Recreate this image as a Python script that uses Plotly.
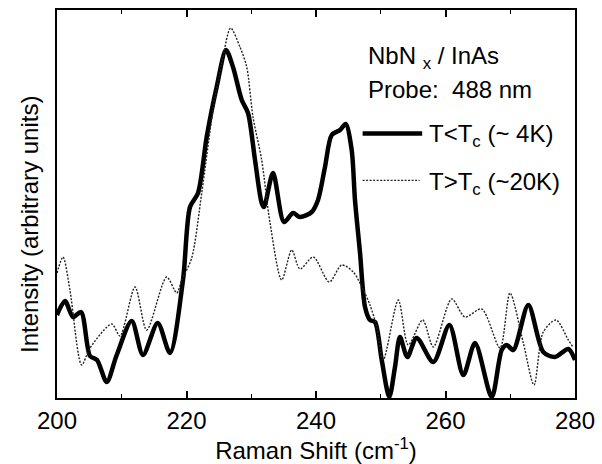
import plotly.graph_objects as go

# Raman shift (cm^-1) and intensity (arbitrary units) for T < Tc (~4K)
shift_4k = [200.0, 201.24, 202.47, 203.71, 205.10, 206.18, 207.68, 209.22, 211.54, 213.28,
            215.55, 217.45, 219.46, 220.54, 221.78, 223.12, 224.66, 226.10, 227.18, 228.53,
            229.50, 230.58, 231.61, 231.97, 233.36, 235.06, 236.45, 237.53, 239.34, 240.31,
            241.39, 242.43, 243.71, 244.59, 245.51, 246.02, 246.80, 247.57, 248.34, 249.11,
            250.15, 251.32, 252.20, 252.97, 254.10, 255.55, 258.12, 260.60, 262.75, 264.56,
            267.14, 268.68, 269.45, 270.47, 272.79, 275.10, 276.91, 278.97, 280.0]
inten_4k = [83, 97, 81, 86, 42, 38, 16, 43, 77, 43,
            75, 45, 118, 191, 205, 261, 311, 348, 331, 298,
            285, 238, 195, 191, 225, 176, 185, 181, 186, 198,
            231, 263, 268, 274, 248, 198, 145, 91, 78, 76,
            38, 1, 31, 61, 41, 60, 36, 73, 23, 55,
            1, 48, 53, 48, 93, 46, 41, 49, 38]

# T > Tc (~20K)
shift_20k = [200.0, 200.93, 202.0, 203.81, 205.10, 208.45, 209.73, 212.05, 213.85, 216.94,
             218.49, 219.26, 220.80, 222.35, 224.14, 225.60, 226.82, 228.26, 229.30, 230.27,
             231.61, 232.90, 234.70, 236.25, 237.53, 239.58, 242.05, 243.97, 245.76, 247.31,
             248.34, 249.38, 250.39, 252.71, 254.25, 256.48, 258.12, 260.96, 263.01, 265.59,
             268.42, 269.96, 272.02, 273.67, 275.10, 277.07, 278.97, 279.69]
inten_20k = [125, 141, 108, 33, 50, 74, 62, 111, 68, 121,
             105, 118, 140, 205, 290, 340, 370, 351, 331, 281,
             238, 175, 118, 148, 129, 141, 116, 133, 126, 108,
             93, 71, 38, 98, 53, 78, 51, 99, 81, 89,
             50, 105, 55, 13, 66, 78, 58, 51]

x_ticks = [200, 220, 240, 260, 280]

series_names = ["T&lt;T<sub>c</sub> (~ 4K)", "T&gt;T<sub>c</sub> (~20K)"]
sample_name = "NbN <sub>x</sub> / InAs"
probe_text = "Probe:  488 nm"

FONT = "Liberation Sans, Arial, sans-serif"
FS = 24

thick = dict(color="black", width=4.5)
thin = dict(color="#222222", width=1.4, dash="2px,1.5px")

fig = go.Figure()
fig.add_trace(go.Scatter(
    x=shift_4k, y=inten_4k, mode="lines", name=series_names[0],
    line=dict(shape="spline", smoothing=0.8, **thick),
))
fig.add_trace(go.Scatter(
    x=shift_20k, y=inten_20k, mode="lines", name=series_names[1],
    line=dict(shape="spline", smoothing=0.8, **thin),
))

def txt(text, x, y, **kw):
    d = dict(text=text, x=x, y=y, xref="paper", yref="paper", xanchor="left",
             yanchor="middle", showarrow=False, font=dict(size=FS))
    d.update(kw)
    return d

fig.update_layout(
    width=602, height=464,
    margin=dict(l=57, r=27, t=10, b=66, autoexpand=False),
    paper_bgcolor="white", plot_bgcolor="white",
    font=dict(family=FONT, size=FS, color="black"),
    showlegend=False,
    xaxis=dict(range=[200, 280], tickvals=x_ticks, ticktext=[str(v) for v in x_ticks],
               ticks="inside", ticklen=7, tickwidth=1.5, tickcolor="black",
               minor=dict(dtick=10, ticks="inside", ticklen=4, tickwidth=1.2, tickcolor="black"),
               showline=True, linecolor="black", linewidth=2, mirror="ticks",
               showgrid=False, zeroline=False, tickfont=dict(size=FS),
               title=dict(text="Raman Shift (cm<sup>-1</sup>)", font=dict(size=FS), standoff=4)),
    yaxis=dict(range=[0, 388], showticklabels=False, ticks="",
               showline=True, linecolor="black", linewidth=2, mirror=True,
               showgrid=False, zeroline=False),
    shapes=[
        dict(type="line", xref="paper", yref="paper", x0=0.590, x1=0.705, y0=0.682, y1=0.682,
             line=thick),
        dict(type="line", xref="paper", yref="paper", x0=0.590, x1=0.700, y0=0.561, y1=0.561,
             line=thin),
    ],
    annotations=[
        txt(sample_name, 0.597, 0.878),
        txt(probe_text, 0.597, 0.794),
        txt(series_names[0], 0.714, 0.676),
        txt(series_names[1], 0.714, 0.553),
        dict(text="Intensity (arbitrary units)", x=-0.052, y=0.446, xref="paper", yref="paper",
             xanchor="center", yanchor="middle", textangle=-90, showarrow=False,
             font=dict(size=FS)),
    ],
)

fig.write_html("out.html", post_script="document.body.style.margin='0';",
               config={"displayModeBar": False})
